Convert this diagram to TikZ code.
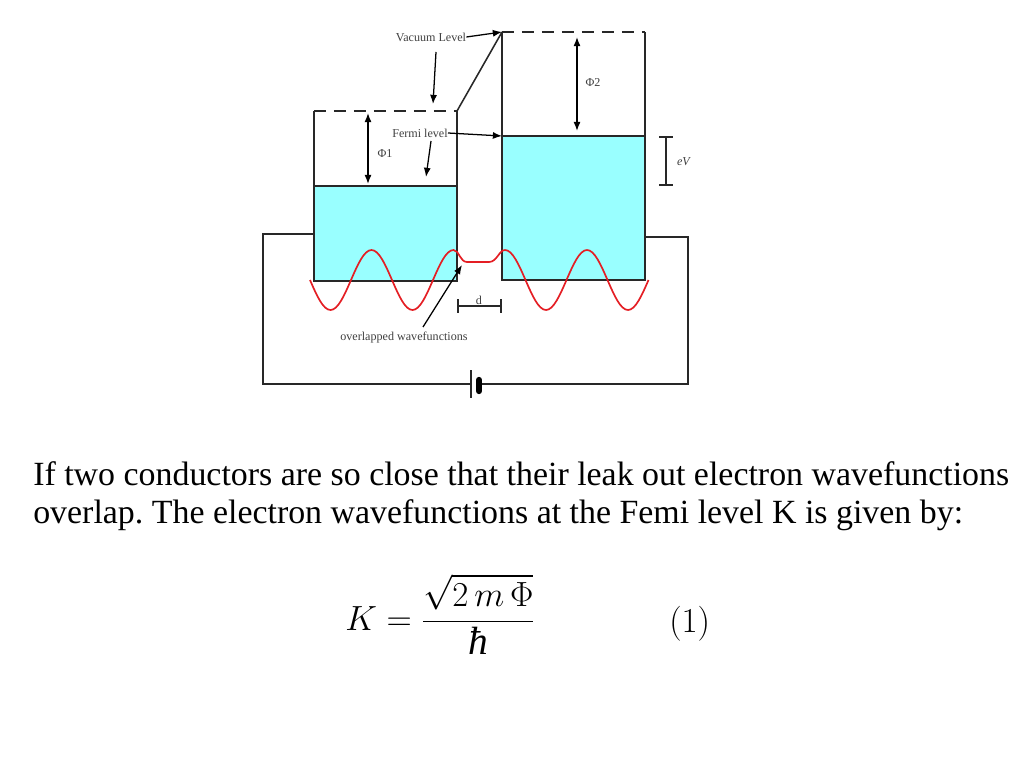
\documentclass[tikz,border=0pt]{standalone}
\usepackage{fontspec}
\setmainfont{Liberation Serif}
\usepackage{amsmath}
\usetikzlibrary{arrows,arrows.meta}
\usetikzlibrary{backgrounds,positioning}
\definecolor{metalfill}{RGB}{153,255,255}
\definecolor{wavered}{RGB}{228,30,36}
\definecolor{linegray}{RGB}{40,40,40}
\frenchspacing

\begin{document}
\begin{tikzpicture}
		[x=0.025cm,y=-0.025cm,
		 font=\fontsize{8.6}{10}\selectfont,
		 level/.style={draw=linegray,line width=1.1pt},
		 vaclevel/.style={level,dash pattern=on 8.5pt off 5.7pt},
		 metal/.style={fill=metalfill},
		 pointer/.style={-{Latex[length=6.5pt,width=5pt]},draw=black,line width=0.9pt},
		 height/.style={{Latex[length=6.5pt,width=5pt]}-{Latex[length=6.5pt,width=5pt]},draw=black,line width=0.9pt},
		 gap/.style={{Bar[width=9.5pt]}-{Bar[width=9.5pt]},draw=linegray,line width=1.1pt},
		 wave/.style={draw=wavered,line width=1.2pt},
		 wire/.style={draw=linegray,line width=1.1pt},
		 lbl/.style={inner sep=0pt,text=black!75},
		 body/.style={inner sep=0pt,anchor=base west,font=\fontsize{24.1}{30}\selectfont}]

		\useasboundingbox (0,0) rectangle (1024,768);

		% left conductor
		\coordinate (L-vac-w) at (314,111);
		\coordinate (L-vac-e) at (457,111);
		\coordinate (L-fermi-w) at (314,186);
		\coordinate (L-fermi-e) at (457,186);
		\coordinate (L-bot-w) at (314,281);
		\coordinate (L-bot-e) at (457,281);
		\fill[metal] (L-fermi-w) rectangle (L-bot-e);
		\draw[vaclevel] (L-vac-w) -- (L-vac-e);
		\draw[level] (L-vac-w) -- (L-bot-w) -- (L-bot-e) -- (L-vac-e);
		\draw[level] (L-fermi-w) -- (L-fermi-e);

		% right conductor
		\coordinate (R-vac-w) at (502,32);
		\coordinate (R-vac-e) at (645,32);
		\coordinate (R-fermi-w) at (502,136);
		\coordinate (R-fermi-e) at (645,136);
		\coordinate (R-bot-w) at (502,280);
		\coordinate (R-bot-e) at (645,280);
		\fill[metal] (R-fermi-w) rectangle (R-bot-e);
		\draw[vaclevel] (R-vac-w) -- (R-vac-e);
		\draw[level] (R-vac-w) -- (R-bot-w) -- (R-bot-e) -- (R-vac-e);
		\draw[level] (R-fermi-w) -- (R-fermi-e);
		\draw[level] (L-vac-e) -- (R-vac-w);

		% work functions and bias
		\coordinate (phi1-top) at (368,113);
		\coordinate (phi1-bot) at (368,184);
		\draw[height] (phi1-top) -- (phi1-bot);
		\node[lbl] (phi1) at (385,154) {Φ1};
		\coordinate (phi2-top) at (577,37);
		\coordinate (phi2-bot) at (577,131);
		\draw[height] (phi2-top) -- (phi2-bot);
		\node[lbl] (phi2) at (593,82) {Φ2};
		\coordinate (eV-top) at (666,136);
		\coordinate (eV-bot) at (666,186);
		\draw[gap] (eV-top) -- (eV-bot);
		\node[lbl] (eV) at (684,162) {\textit{eV}};

		% labels
		\node[lbl] (vacuum) at (431,37) {Vacuum Level};
		\draw[pointer] (vacuum.east) -- (R-vac-w);
		\coordinate (vac-from) at (436,52);
		\coordinate (vac-to) at (433,104);
		\draw[pointer] (vac-from) -- (vac-to);
		\node[lbl] (fermi) at (420,133) {Fermi level};
		\draw[pointer] (fermi.east) -- (R-fermi-w);
		\coordinate (fermi-from) at (431,141);
		\coordinate (fermi-to) at (426,177);
		\draw[pointer] (fermi-from) -- (fermi-to);

		% wavefunctions
		\draw[wave] (310,280) sin (330.5,310) cos (351,280) sin (371.5,250) cos (392,280)
			sin (412.5,310) cos (433,280) sin (453.5,250)
			.. controls (459,250) and (460,262) .. (467,262) -- (489,262)
			.. controls (497,262) and (499,250) .. (505,250)
			cos (525.5,280) sin (546,310) cos (566.5,280) sin (587,250)
			cos (607.5,280) sin (628,310) cos (648.5,280);
		\coordinate (overlap) at (462,265);
		\node[lbl] (overlapped) at (404,338) {overlapped wavefunctions};
		\coordinate (overlap-from) at (423,327);
		\draw[pointer] (overlap-from) -- (overlap);

		% gap width
		\coordinate (d-w) at (457,306);
		\coordinate (d-e) at (502,306);
		\draw[gap] (d-w) -- (d-e);
		\node[lbl,anchor=south] (d) at (479,305) {d};

		% circuit with battery
		\coordinate (L-wire) at (314,234);
		\coordinate (R-wire) at (645,237);
		\coordinate (bat-long) at (471,384);
		\coordinate (bat-short) at (479,384);
		\draw[wire] (L-wire) -- (263,234) -- (263,384) -- (bat-long);
		\draw[wire] (bat-short) -- (688,384) -- (688,237) -- (R-wire);
		\draw[wire] (471,370) -- (471,398);
		\draw[draw=black,line width=4.5pt,line cap=round] (479,380) -- (479,391);

		% text and formula
		\node[body] (line1) at (33,485) {If two conductors are so close that their leak out electron wavefunctions};
		\node[body] (line2) at (33,523) {overlap. The electron wavefunctions at the Femi level K is given by:};
		\node[inner sep=0pt,anchor=base west,font=\fontsize{28}{34}\selectfont] (formula) at (345,630)
			{$K=\dfrac{\sqrt{2\,m\,\Phi}}{\mbox{\itshape ħ}}$};
		\node[inner sep=0pt,anchor=base west,font=\fontsize{27}{34}\selectfont] (eqnum) at (669,632) {$(1)$};
	\end{tikzpicture}
\end{document}
